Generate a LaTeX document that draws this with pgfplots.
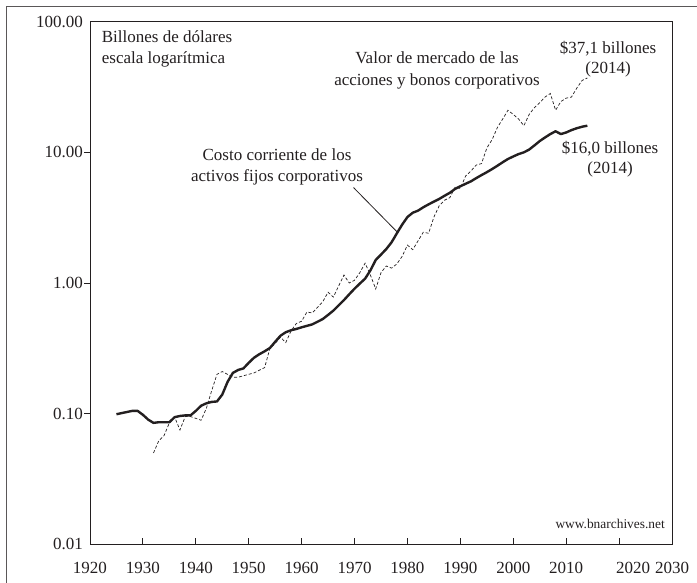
\documentclass[border=0pt]{standalone}
\usepackage{pgfplots}
\pgfplotsset{compat=1.18}
\usepackage{fontspec}
\setmainfont{Liberation Serif}
\definecolor{ink}{HTML}{231F20}
\pgfplotstableread{
year v
1925 0.099
1926 0.101
1927 0.103
1928 0.105
1929 0.105
1930 0.098
1931 0.090
1932 0.085
1933 0.086
1934 0.086
1935 0.086
1936 0.094
1937 0.096
1938 0.097
1939 0.097
1940 0.105
1941 0.115
1942 0.120
1943 0.123
1944 0.124
1945 0.140
1946 0.175
1947 0.205
1948 0.216
1949 0.222
1950 0.245
1951 0.268
1952 0.285
1953 0.300
1954 0.318
1955 0.355
1956 0.395
1957 0.420
1958 0.435
1959 0.445
1960 0.458
1961 0.470
1962 0.482
1963 0.505
1964 0.530
1965 0.570
1966 0.615
1967 0.675
1968 0.740
1969 0.820
1970 0.905
1971 0.990
1972 1.08
1973 1.25
1974 1.50
1975 1.65
1976 1.82
1977 2.05
1978 2.40
1979 2.80
1980 3.20
1981 3.45
1982 3.58
1983 3.80
1984 4.00
1985 4.20
1986 4.40
1987 4.65
1988 4.90
1989 5.25
1990 5.50
1991 5.75
1992 6.00
1993 6.35
1994 6.70
1995 7.05
1996 7.45
1997 7.90
1998 8.40
1999 8.90
2000 9.30
2001 9.70
2002 10.0
2003 10.5
2004 11.3
2005 12.2
2006 13.0
2007 13.8
2008 14.5
2009 13.8
2010 14.2
2011 14.8
2012 15.3
2013 15.7
2014 16.0
}\costo
\pgfplotstableread{
year v
1932 0.050
1933 0.062
1934 0.068
1935 0.085
1936 0.094
1937 0.075
1938 0.095
1939 0.095
1940 0.092
1941 0.089
1942 0.110
1943 0.150
1944 0.200
1945 0.210
1946 0.200
1947 0.190
1948 0.190
1949 0.195
1950 0.200
1951 0.205
1952 0.215
1953 0.225
1954 0.315
1955 0.345
1956 0.385
1957 0.350
1958 0.430
1959 0.490
1960 0.510
1961 0.600
1962 0.590
1963 0.650
1964 0.720
1965 0.850
1966 0.780
1967 0.950
1968 1.15
1969 1.00
1970 1.05
1971 1.20
1972 1.42
1973 1.15
1974 0.90
1975 1.20
1976 1.35
1977 1.30
1978 1.40
1979 1.60
1980 1.95
1981 1.80
1982 2.10
1983 2.45
1984 2.40
1985 3.20
1986 3.90
1987 4.30
1988 4.50
1989 5.40
1990 5.30
1991 6.60
1992 7.20
1993 8.00
1994 8.20
1995 10.8
1996 12.5
1997 15.5
1998 18.0
1999 21.0
2000 19.5
2001 18.0
2002 16.0
2003 19.5
2004 22.0
2005 24.0
2006 26.5
2007 28.2
2008 21.0
2009 24.5
2010 26.0
2011 26.5
2012 31.0
2013 35.5
2014 37.1
}\mercado
\begin{document}
\fontsize{17bp}{20.5bp}\selectfont
\begin{tikzpicture}
\path[use as bounding box] (-90bp,-38.7bp) rectangle (607bp,544.3bp);
\draw[ink!75, line width=0.9bp] (-83.3bp,-38.7bp) -- (-83.3bp,537.6bp) -- (607bp,537.6bp);
\begin{axis}[at={(0,0)}, anchor=south west, scale only axis,
  width=582bp, height=522.6bp,
  ymode=log, xmin=1920, xmax=2030, ymin=0.01, ymax=100,
  xtick={1920,1930,1940,1950,1960,1970,1980,1990,2000,2010,2020,2030},
  xticklabels={1920,1930,1940,1950,1960,1970,1980,1990,2000,2010,\hspace*{28bp}2020,2030},
  ytick={0.01,0.1,1,10,100},
  yticklabels={0.01,0.10,1.00,10.00,100.00},
  yminorticks=false,
  major tick length=0bp,
  axis line style={ink, line width=0.8bp},
  xticklabel style={inner sep=0pt, yshift=-17.9bp, text=ink},
  yticklabel style={inner sep=0pt, xshift=-7bp, text=ink},
  clip=false,
]
\addplot[ink, line width=2.4bp, line join=round] table[x=year,y=v] {\costo};
\addplot[ink, line width=0.7bp, dash pattern=on 3bp off 2bp] table[x=year,y=v] {\mercado};
\draw[ink, line width=0.8bp] (axis cs:1969.8,5.38) -- (axis cs:1978.0,2.47);
% tick marks: x inward, y outward
\pgfplotsinvokeforeach{1930,1940,1950,1960,1970,1980,1990,2000,2010,2020}{
  \draw[ink, line width=0.9bp] (axis cs:#1,0.01) -- ([yshift=6bp]axis cs:#1,0.01);
}
\pgfplotsinvokeforeach{0.1,1,10}{
  \draw[ink, line width=0.9bp] (axis cs:1920,#1) -- ([xshift=-6bp]axis cs:1920,#1);
}
\end{axis}
\begin{scope}[every node/.style={inner sep=0pt, text=ink}]
\node[anchor=base west] at (11.7bp,501.6bp) {Billones de dólares};
\node[anchor=base west] at (11.7bp,481bp) {escala logarítmica};
\node[anchor=base] at (347bp,480.3bp) {Valor de mercado de las};
\node[anchor=base] at (347bp,458.3bp) {acciones y bonos corporativos};
\node[anchor=base] at (518bp,491bp) {\$37,1 billones};
\node[anchor=base] at (518bp,471bp) {(2014)};
\node[anchor=base] at (520bp,391bp) {\$16,0 billones};
\node[anchor=base] at (520bp,371bp) {(2014)};
\node[anchor=base] at (187bp,383.3bp) {Costo corriente de los};
\node[anchor=base] at (187bp,362.3bp) {activos fijos corporativos};
\node[anchor=base east, font=\fontsize{13.4bp}{16bp}\selectfont] at (575bp,16bp) {www.bnarchives.net};
\end{scope}
\end{tikzpicture}
\end{document}
